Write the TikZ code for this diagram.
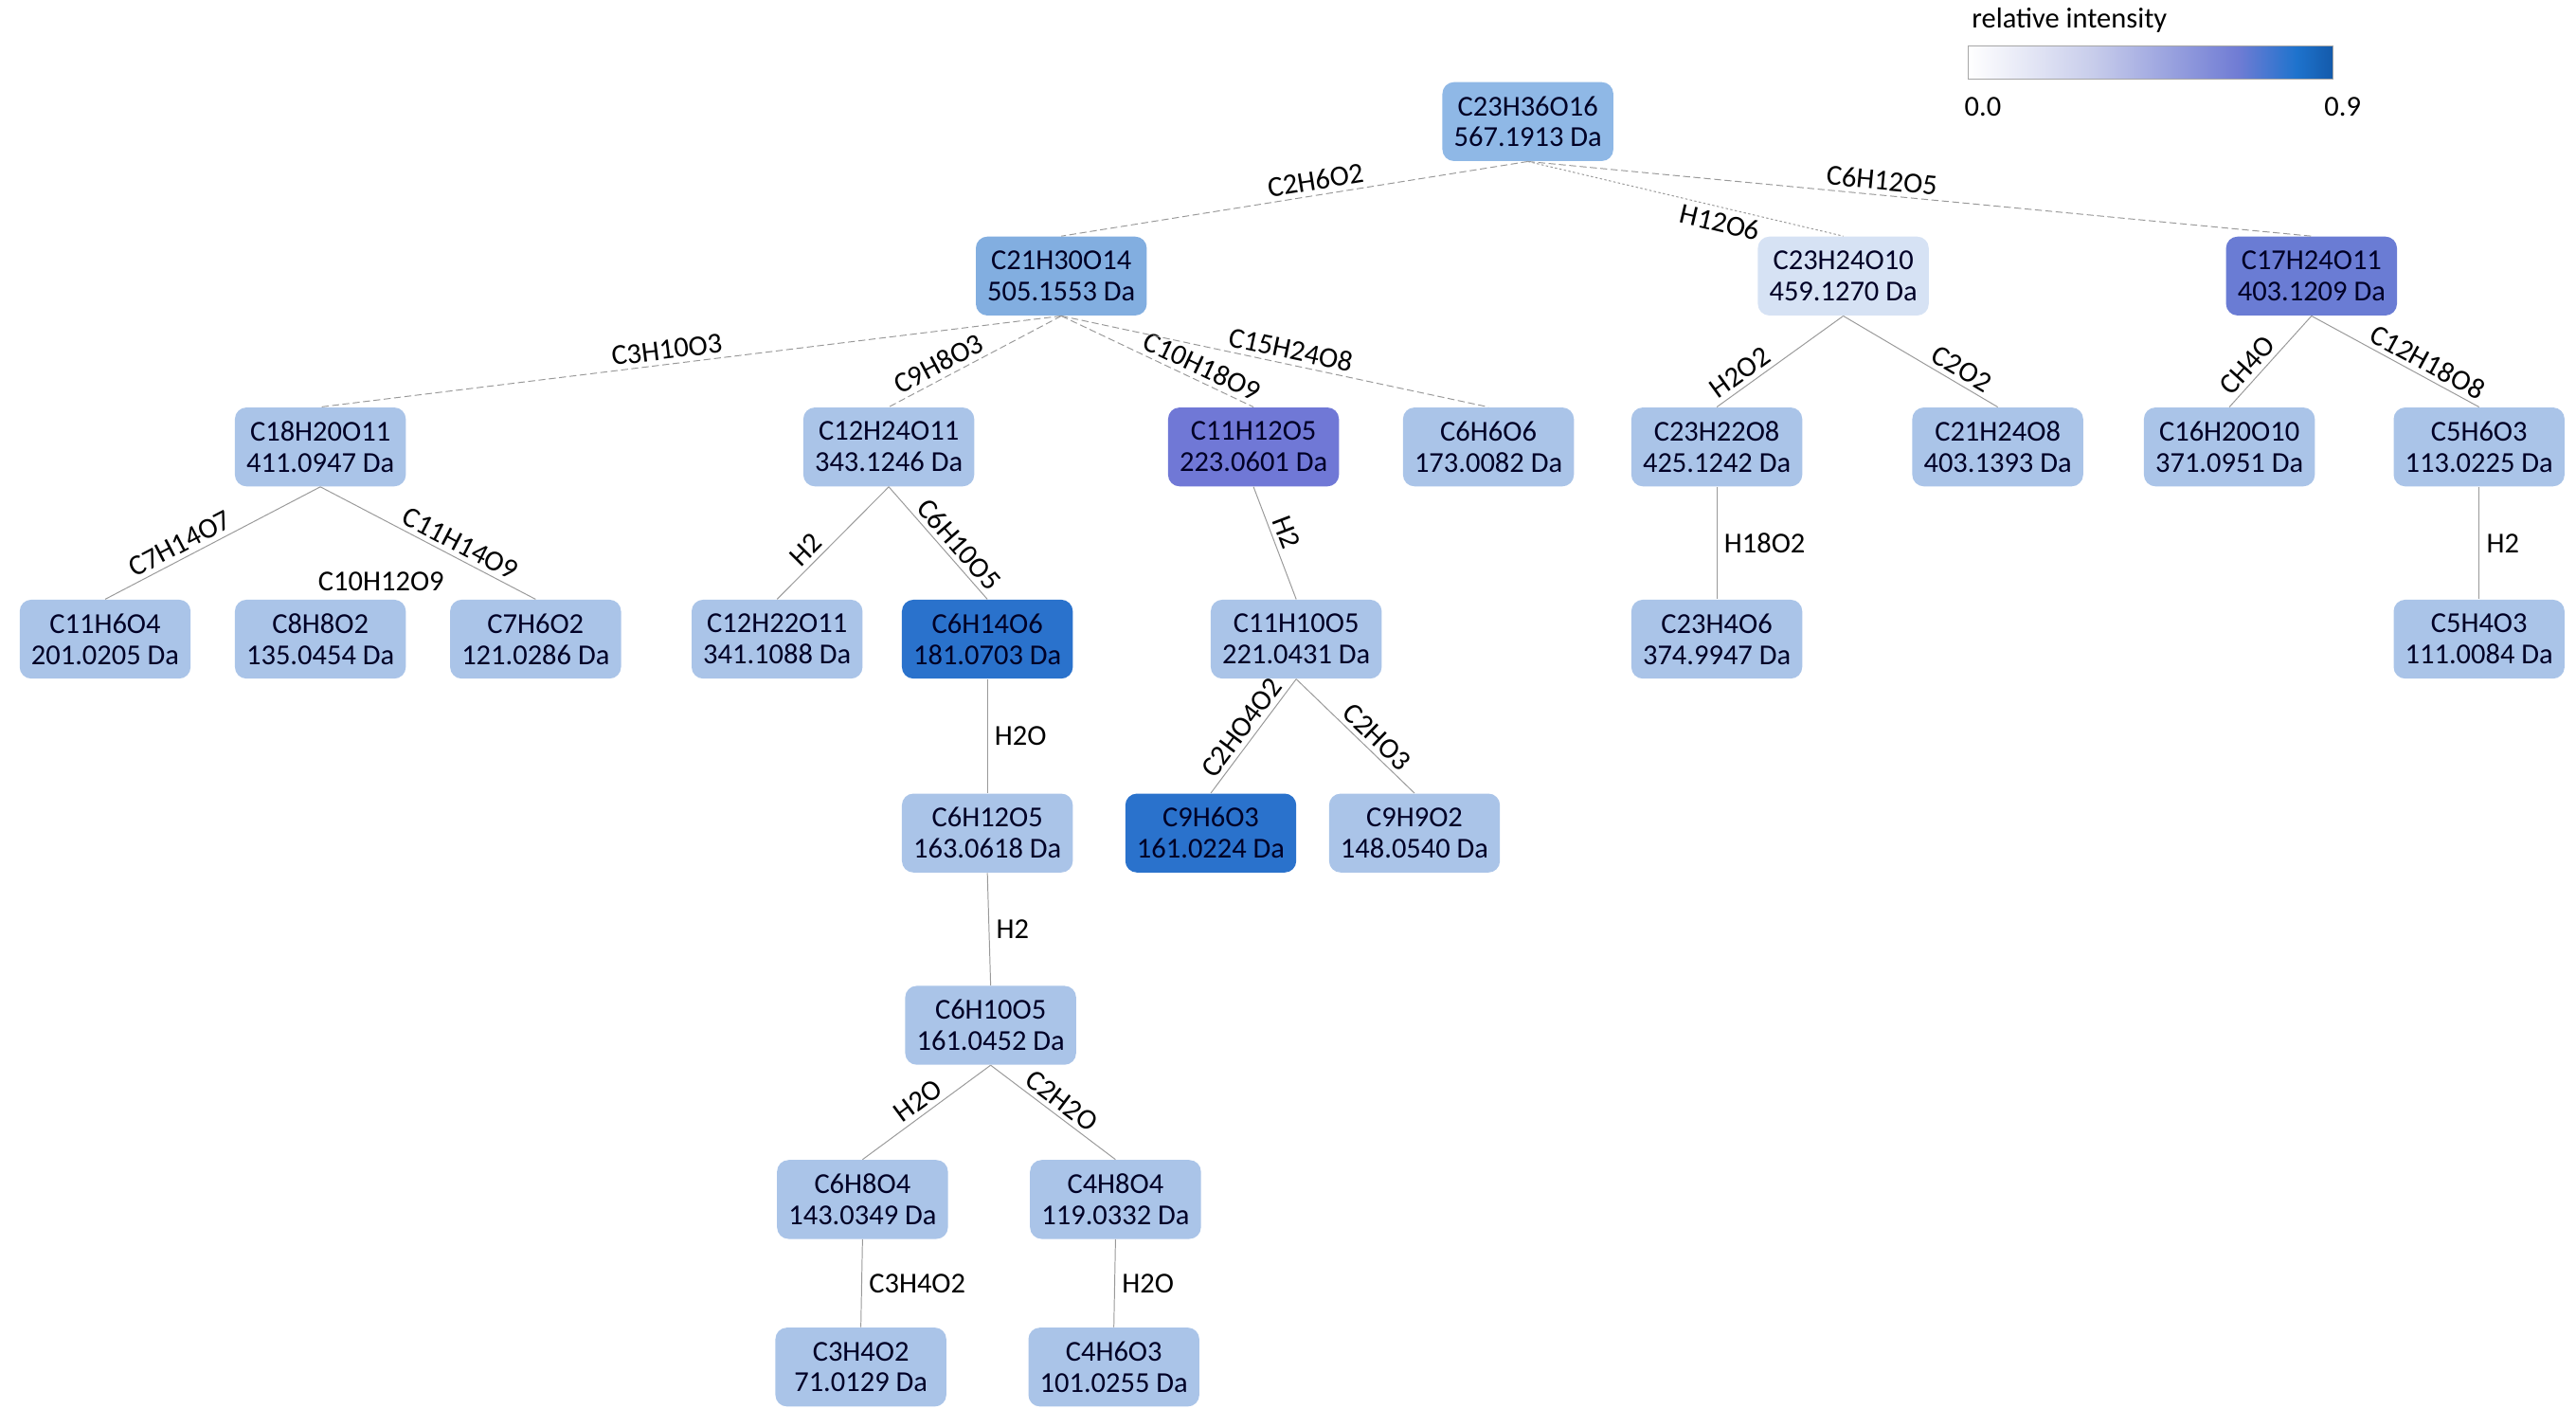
\documentclass[tikz,border=0pt]{standalone}
\usepackage{fontspec}
\setmainfont{Carlito}
\pgfdeclarehorizontalshading{intens}{100bp}{color(0bp)=(white); color(25bp)=(white); color(42bp)=(rgb,255:red,200;green,205;blue,235); color(62bp)=(rgb,255:red,112;green,124;blue,212); color(70bp)=(rgb,255:red,30;green,115;blue,205); color(75bp)=(rgb,255:red,20;green,90;blue,170); color(100bp)=(rgb,255:red,20;green,90;blue,170)}
\definecolor{base}{RGB}{170,196,232}
\definecolor{c0}{RGB}{143,184,230}
\definecolor{c1}{RGB}{130,174,224}
\definecolor{clight}{RGB}{214,226,244}
\definecolor{cmid}{RGB}{106,124,212}
\definecolor{cmid2}{RGB}{112,120,214}
\definecolor{cdark}{RGB}{42,114,204}
\begin{document}
\begin{tikzpicture}[x=0.025cm,y=-0.025cm,
  font=\fontsize{12.5}{13.5}\selectfont,
  box/.style={rounded corners=5pt,fill=base,minimum width=2.6cm,minimum height=1.2cm,align=center,inner sep=1pt,text=black!85!blue},
  e/.style={gray!80,line width=0.4pt},
  ed/.style={e,dash pattern=on 3pt off 1.5pt},
  lab/.style={sloped,above,inner sep=2pt,text=black},
  rl/.style={right,text=black,inner sep=3pt}]
\useasboundingbox (0,0) rectangle (1568,868);
\newcommand\bx[5][base]{\node[box,fill=#1] (#2) at (#3) {#4\\#5 Da};}
\bx[c0]{r}{930,74}{C23H36O16}{567.1913}
\bx[c1]{a}{646,168}{C21H30O14}{505.1553}
\bx[clight]{b}{1122,168}{C23H24O10}{459.1270}
\bx[cmid]{c}{1407,168}{C17H24O11}{403.1209}
\bx{a1}{195,272}{C18H20O11}{411.0947}
\bx{a2}{541,272}{C12H24O11}{343.1246}
\bx[cmid2]{a3}{763,272}{C11H12O5}{223.0601}
\bx{a4}{906,272}{C6H6O6}{173.0082}
\bx{b1}{1045,272}{C23H22O8}{425.1242}
\bx{b2}{1216,272}{C21H24O8}{403.1393}
\bx{c1}{1357,272}{C16H20O10}{371.0951}
\bx{c2}{1509,272}{C5H6O3}{113.0225}
\bx{a11}{64,389}{C11H6O4}{201.0205}
\bx{a12}{195,389}{C8H8O2}{135.0454}
\bx{a13}{326,389}{C7H6O2}{121.0286}
\bx{a21}{473,389}{C12H22O11}{341.1088}
\bx[cdark]{a22}{601,389}{C6H14O6}{181.0703}
\bx{a31}{789,389}{C11H10O5}{221.0431}
\bx{b11}{1045,389}{C23H4O6}{374.9947}
\bx{c21}{1509,389}{C5H4O3}{111.0084}
\bx{a221}{601,507}{C6H12O5}{163.0618}
\bx[cdark]{a311}{737,507}{C9H6O3}{161.0224}
\bx{a312}{861,507}{C9H9O2}{148.0540}
\bx{a2211}{603,624}{C6H10O5}{161.0452}
\bx{d1}{525,730}{C6H8O4}{143.0349}
\bx{d2}{679,730}{C4H8O4}{119.0332}
\bx{d11}{524,832}{C3H4O2}{71.0129}
\bx{d21}{678,832}{C4H6O3}{101.0255}
% edges
\draw[ed] (r.south) -- node[lab,pos=0.45] {C2H6O2} (a.north);
\draw[ed,dash pattern=on 1pt off 1pt] (r.south) -- node[sloped,below,pos=0.62,inner sep=2pt,text=black] {H12O6} (b.north);
\draw[ed] (r.south) -- node[lab,pos=0.45] {C6H12O5} (c.north);
\draw[ed] (a.south) -- node[lab,pos=0.53] {C3H10O3} (a1.north);
\draw[ed] (a.south) -- node[lab,pos=0.67] {C9H8O3} (a2.north);
\draw[ed] (a.south) -- node[lab,pos=0.7] {C10H18O9} (a3.north);
\draw[ed] (a.south) -- node[lab,pos=0.53] {C15H24O8} (a4.north);
\draw[e] (b.south) -- node[lab,pos=0.75] {H2O2} (b1.north);
\draw[e] (b.south) -- node[lab,pos=0.72] {C2O2} (b2.north);
\draw[e] (c.south) -- node[lab,pos=0.65] {CH4O} (c1.north);
\draw[e] (c.south) -- node[lab,pos=0.65] {C12H18O8} (c2.north);
\draw[e] (a1.south) -- node[lab,pos=0.62] {C7H14O7} (a11.north);
\node (l12) at (232,354) {C10H12O9};
\draw[e] (a1.south) -- node[lab,pos=0.62] {C11H14O9} (a13.north);
\draw[e] (a2.south) -- node[lab,pos=0.65] {H2} (a21.north);
\draw[e] (a2.south) -- node[lab,pos=0.6] {C6H10O5} (a22.north);
\draw[e] (a3.south) -- node[lab,pos=0.45] {H2} (a31.north);
\draw[e] (b1.south) -- node[rl,pos=0.5] {H18O2} (b11.north);
\draw[e] (c2.south) -- node[rl,pos=0.5] {H2} (c21.north);
\draw[e] (a22.south) -- node[rl,pos=0.5] {H2O} (a221.north);
\draw[e] (a31.south) -- node[lab,pos=0.5] {C2HO4O2} (a311.north);
\draw[e] (a31.south) -- node[lab,pos=0.6] {C2HO3} (a312.north);
\draw[e] (a221.south) -- node[rl,pos=0.5] {H2} (a2211.north);
\draw[e] (a2211.south) -- node[lab,pos=0.5] {H2O} (d1.north);
\draw[e] (a2211.south) -- node[lab,pos=0.5] {C2H2O} (d2.north);
\draw[e] (d1.south) -- node[rl,pos=0.5] {C3H4O2} (d11.north);
\draw[e] (d2.south) -- node[rl,pos=0.5] {H2O} (d21.north);
% colour bar
\node[draw=gray!70,line width=0.3pt,shading=intens,minimum width=5.55cm,minimum height=0.5cm,inner sep=0pt] (bar) at (1309,38) {};
\node[anchor=south west,inner sep=0pt] (rt) at (1200,20) {relative intensity};
\node (z0) at (1207,65) {0.0};
\node (z9) at (1426,65) {0.9};
\end{tikzpicture}
\end{document}
